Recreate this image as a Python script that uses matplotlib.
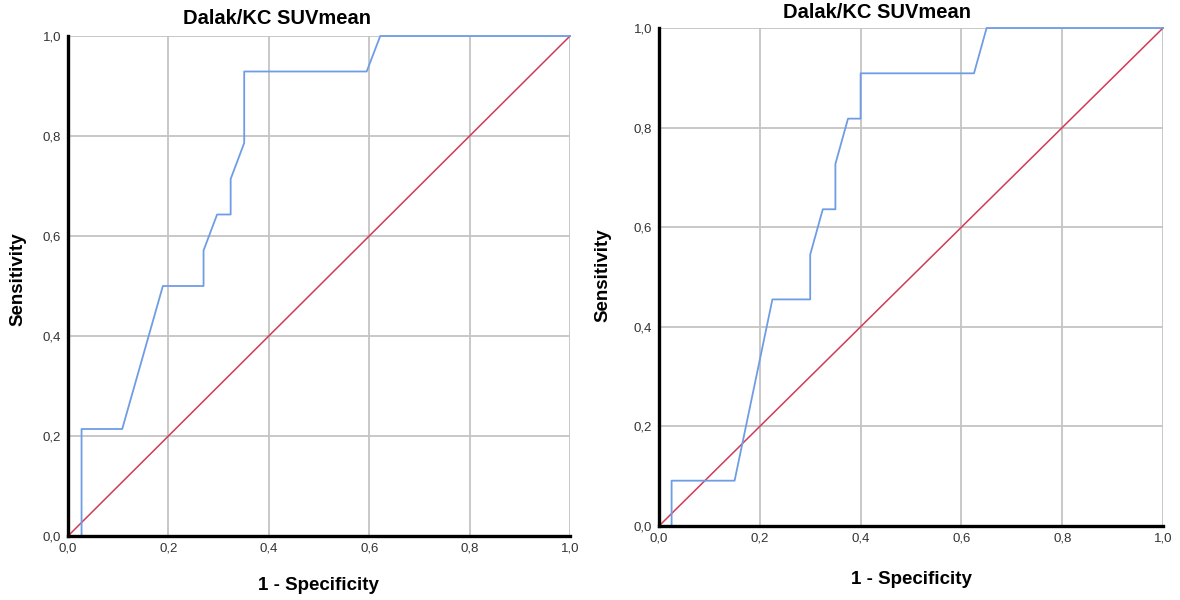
import matplotlib
matplotlib.use("Agg")
import matplotlib.pyplot as plt
from matplotlib.ticker import FixedLocator, FuncFormatter

plt.rcParams['font.family'] = ['Liberation Sans', 'DejaVu Sans']

# ---- data -----------------------------------------------------------------
chart_title = "Dalak/KC SUVmean"
x_label = "1 - Specificity"
y_label = "Sensitivity"
tick_values = [0.0, 0.2, 0.4, 0.6, 0.8, 1.0]

# ROC curve, first analysis (1 - specificity, sensitivity)
fpr_a = [0.0, 0.027, 0.027, 0.108, 0.189, 0.270, 0.270, 0.297, 0.324, 0.324,
         0.351, 0.351, 0.595, 0.622, 1.0]
tpr_a = [0.0, 0.0, 0.214, 0.214, 0.500, 0.500, 0.571, 0.643, 0.643, 0.714,
         0.786, 0.929, 0.929, 1.0, 1.0]

# ROC curve, second analysis
fpr_b = [0.0, 0.025, 0.025, 0.150, 0.225, 0.300, 0.300, 0.325, 0.350, 0.350,
         0.375, 0.400, 0.400, 0.625, 0.650, 1.0]
tpr_b = [0.0, 0.0, 0.091, 0.091, 0.455, 0.455, 0.545, 0.636, 0.636, 0.727,
         0.818, 0.818, 0.909, 0.909, 1.0, 1.0]

# chance diagonal
ref_x = [0.0, 1.0]
ref_y = [0.0, 1.0]

# ---- styling --------------------------------------------------------------
W, H = 1180, 600
CURVE = "#6e9de6"
DIAG = "#d23a55"
GRID = "#c4c4c4"
TEXT = "#333333"

fig = plt.figure(figsize=(W / 100, H / 100), dpi=100)
fig.patch.set_facecolor("white")


def px_axes(x0, y0, x1, y1):
    """Axes from pixel box (left, top, right, bottom)."""
    return fig.add_axes([x0 / W, 1 - y1 / H, (x1 - x0) / W, (y1 - y0) / H])


def comma(v, _pos):
    return f"{v:.1f}".replace(".", ",")


def draw_panel(ax, fpr, tpr):
    ax.set_xlim(0, 1)
    ax.set_ylim(0, 1)
    for v in tick_values[1:]:
        ax.axvline(v, color=GRID, lw=1.3, zorder=1)
        ax.axhline(v, color=GRID, lw=1.3, zorder=1)
    ax.plot(ref_x, ref_y, color=DIAG, lw=1.1, zorder=3, clip_on=False)
    ax.plot(fpr, tpr, color=CURVE, lw=1.3, zorder=4, clip_on=False)
    ax.xaxis.set_major_locator(FixedLocator(tick_values))
    ax.yaxis.set_major_locator(FixedLocator(tick_values))
    ax.xaxis.set_major_formatter(FuncFormatter(comma))
    ax.yaxis.set_major_formatter(FuncFormatter(comma))
    ax.tick_params(length=0, labelsize=9.5, labelcolor=TEXT, pad=5)
    for side in ("top", "right"):
        ax.spines[side].set_visible(False)
    for side in ("left", "bottom"):
        ax.spines[side].set_color("black")
        ax.spines[side].set_linewidth(2.4)
        ax.spines[side].set_zorder(5)


ax1 = px_axes(68, 36, 570, 536)
draw_panel(ax1, fpr_a, tpr_a)
ax2 = px_axes(659, 28, 1163, 526)
draw_panel(ax2, fpr_b, tpr_b)

label_kw = dict(fontsize=13.5, fontweight="bold", color="black",
                ha="center", va="center")
title_kw = dict(fontsize=14.5, fontweight="bold", color="black",
                ha="center", va="center")

# first panel texts
fig.text(277 / W, 1 - 18 / H, chart_title, **title_kw)
fig.text(318 / W, 1 - 585 / H, x_label, **label_kw)
fig.text(18 / W, 1 - 279 / H, y_label, rotation=90, **label_kw)

# second panel texts
fig.text(877 / W, 1 - 13 / H, chart_title, **title_kw)
fig.text(911 / W, 1 - 580 / H, x_label, **label_kw)
fig.text(603 / W, 1 - 275 / H, y_label, rotation=90, **label_kw)

fig.savefig("out.png", dpi=100, facecolor="white")
